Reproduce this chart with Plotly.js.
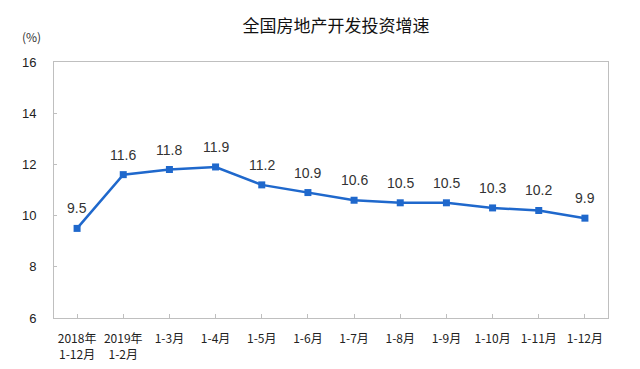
<!DOCTYPE html>
<html>
<head>
<meta charset="utf-8">
<script src="https://cdn.plot.ly/plotly-3.0.1.min.js"></script>
<style>html,body{margin:0;padding:0;background:#fff;}#chart{width:640px;height:369px;}</style>
</head>
<body>
<div id="chart"></div>
<script>
const categories = ["2018年<br>1-12月", "2019年<br>1-2月", "1-3月", "1-4月", "1-5月", "1-6月", "1-7月", "1-8月", "1-9月", "1-10月", "1-11月", "1-12月"];
const values = [9.5, 11.6, 11.8, 11.9, 11.2, 10.9, 10.6, 10.5, 10.5, 10.3, 10.2, 9.9];
const yTicks = [6, 8, 10, 12, 14, 16];
const chartTitle = "全国房地产开发投资增速";
const unitLabel = "(%)";

const idx = categories.map((_, i) => i);

const trace = {
  type: "scatter",
  mode: "lines+markers",
  x: idx,
  y: values,
  line: {color: "#1F68CC", width: 2.5},
  marker: {symbol: "square", size: 7, color: "#1F68CC"},
  cliponaxis: false,
  hoverinfo: "none"
};

const valueLabels = values.map((v, i) => ({
  x: i, y: v, xref: "x", yref: "y",
  text: v.toFixed(1),
  showarrow: false,
  xanchor: "center", yanchor: "middle",
  yshift: 20,
  font: {family: "Liberation Sans, Arial, sans-serif", size: 14, color: "#333333"}
}));

const layout = {
  width: 640, height: 369,
  margin: {l: 54, r: 32, t: 62, b: 51},
  paper_bgcolor: "#ffffff", plot_bgcolor: "#ffffff",
  showlegend: false,
  title: {
    text: chartTitle,
    font: {family: "Noto Sans CJK SC, sans-serif", size: 17, color: "#111111"},
    x: 0.525, xanchor: "center", y: 0.93, yanchor: "middle"
  },
  xaxis: {
    range: [-0.5, 11.5],
    tickmode: "array",
    tickvals: idx,
    ticktext: categories,
    tickson: "boundaries",
    ticks: "inside", ticklen: 4, tickcolor: "#bfbfbf",
    showgrid: false, zeroline: false,
    showline: true, linecolor: "#bfbfbf", linewidth: 1, mirror: true,
    tickfont: {family: "Noto Sans CJK SC, sans-serif", size: 12, color: "#222222"},
    ticklabelstandoff: 10,
    fixedrange: true
  },
  yaxis: {
    range: [6, 16],
    tickmode: "array",
    tickvals: yTicks,
    ticktext: yTicks.map(String),
    ticks: "inside", ticklen: 3, tickcolor: "#bfbfbf",
    showgrid: false, zeroline: false,
    showline: true, linecolor: "#bfbfbf", linewidth: 1, mirror: true,
    tickfont: {family: "Liberation Sans, Arial, sans-serif", size: 13, color: "#222222"},
    ticklabelstandoff: 14,
    fixedrange: true
  },
  annotations: valueLabels.concat([{
    text: unitLabel,
    xref: "paper", yref: "paper",
    x: -0.04, y: 1.1, xanchor: "center", yanchor: "middle",
    showarrow: false,
    font: {family: "Noto Sans CJK SC, sans-serif", size: 12, color: "#333333"}
  }])
};

Plotly.newPlot("chart", [trace], layout, {displayModeBar: false, staticPlot: true});
</script>
</body>
</html>
